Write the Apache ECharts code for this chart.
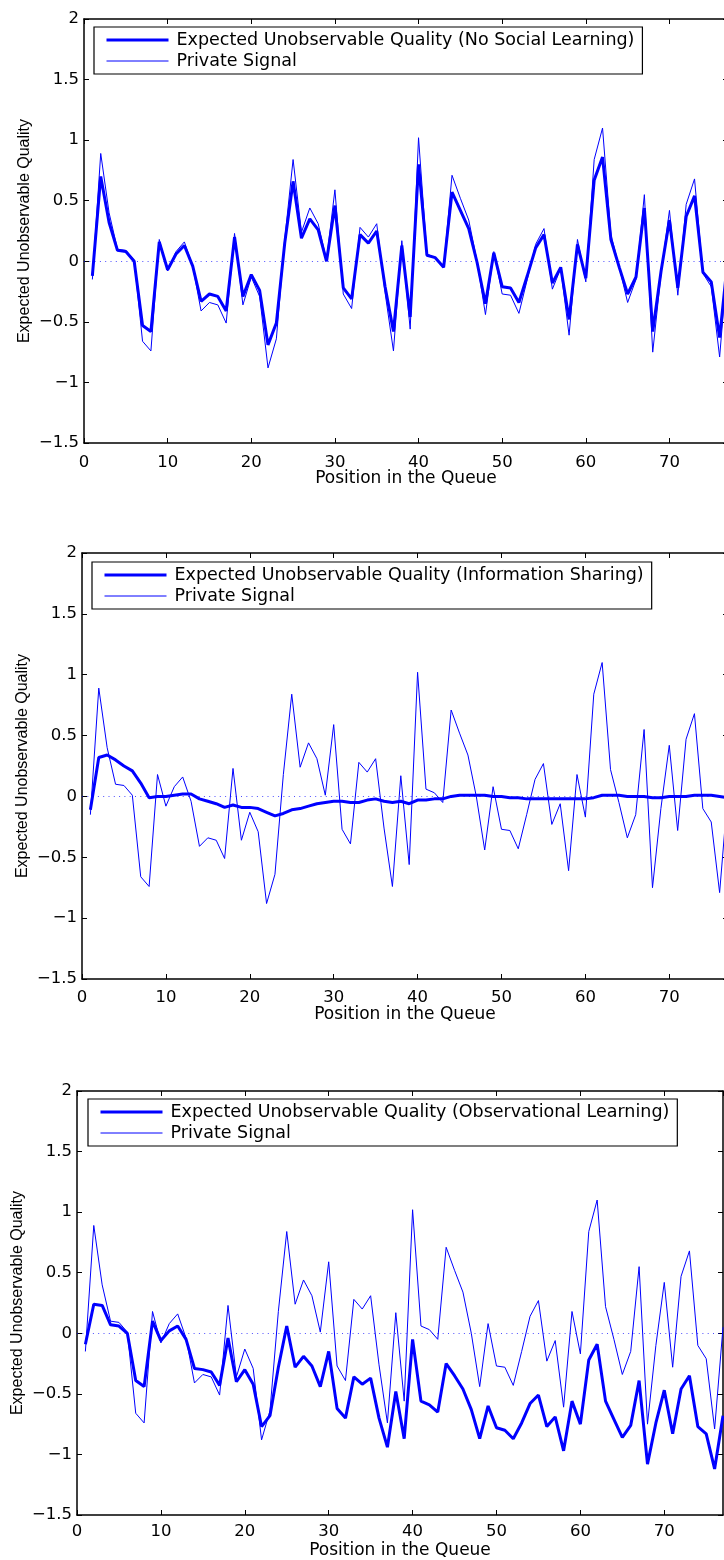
<!DOCTYPE html>
<html><head><meta charset="utf-8">
<script src="https://cdn.jsdelivr.net/npm/echarts@6/dist/echarts.min.js"></script>
<style>html,body{margin:0;padding:0;background:#fff;overflow:hidden;width:724px;height:1560px}#c{width:740px;height:1560px}</style>
</head><body><div id="c"></div>
<script>
const positions = [1,2,3,4,5,6,7,8,9,10,11,12,13,14,15,16,17,18,19,20,21,22,23,24,25,26,27,28,29,30,31,32,33,34,35,36,37,38,39,40,41,42,43,44,45,46,47,48,49,50,51,52,53,54,55,56,57,58,59,60,61,62,63,64,65,66,67,68,69,70,71,72,73,74,75,76,77];
const privateSignal = [-0.15,0.89,0.40,0.10,0.09,0.01,-0.66,-0.74,0.18,-0.08,0.08,0.16,-0.04,-0.41,-0.34,-0.36,-0.51,0.23,-0.36,-0.13,-0.29,-0.88,-0.64,0.18,0.84,0.24,0.44,0.31,0.01,0.59,-0.27,-0.39,0.28,0.20,0.31,-0.26,-0.74,0.17,-0.56,1.02,0.06,0.03,-0.05,0.71,0.52,0.34,0.00,-0.44,0.08,-0.27,-0.28,-0.43,-0.15,0.14,0.27,-0.23,-0.06,-0.61,0.18,-0.17,0.84,1.10,0.22,-0.05,-0.34,-0.15,0.55,-0.75,-0.10,0.42,-0.28,0.47,0.68,-0.10,-0.21,-0.79,0.05];
const noSocialLearning = [-0.12,0.70,0.32,0.09,0.08,0.00,-0.53,-0.58,0.16,-0.07,0.06,0.13,-0.04,-0.33,-0.27,-0.29,-0.41,0.20,-0.29,-0.11,-0.24,-0.69,-0.51,0.15,0.66,0.19,0.35,0.26,0.00,0.46,-0.22,-0.31,0.22,0.15,0.25,-0.21,-0.58,0.13,-0.46,0.80,0.05,0.03,-0.05,0.57,0.42,0.27,-0.01,-0.35,0.07,-0.21,-0.22,-0.34,-0.12,0.11,0.22,-0.18,-0.05,-0.48,0.14,-0.14,0.67,0.86,0.18,-0.05,-0.27,-0.13,0.44,-0.58,-0.08,0.34,-0.22,0.37,0.54,-0.09,-0.17,-0.63,0.04];
const informationSharing = [-0.11,0.32,0.34,0.30,0.25,0.21,0.11,-0.01,0.00,0.00,0.01,0.02,0.02,-0.02,-0.04,-0.06,-0.09,-0.07,-0.09,-0.09,-0.10,-0.13,-0.16,-0.14,-0.11,-0.10,-0.08,-0.06,-0.05,-0.04,-0.04,-0.05,-0.05,-0.03,-0.02,-0.04,-0.05,-0.04,-0.06,-0.03,-0.03,-0.02,-0.02,0.00,0.01,0.01,0.01,0.01,0.00,0.00,-0.01,-0.01,-0.02,-0.02,-0.02,-0.02,-0.02,-0.02,-0.02,-0.02,-0.01,0.01,0.01,0.01,0.00,0.00,0.00,-0.01,-0.01,0.00,0.00,0.00,0.01,0.01,0.01,0.00,-0.01];
const observationalLearning = [-0.09,0.24,0.23,0.07,0.06,0.00,-0.39,-0.44,0.10,-0.06,0.02,0.06,-0.05,-0.29,-0.30,-0.32,-0.43,-0.04,-0.40,-0.30,-0.42,-0.77,-0.68,-0.28,0.06,-0.28,-0.19,-0.27,-0.44,-0.15,-0.62,-0.70,-0.36,-0.42,-0.37,-0.70,-0.94,-0.48,-0.87,-0.05,-0.56,-0.59,-0.65,-0.25,-0.35,-0.46,-0.63,-0.87,-0.60,-0.78,-0.80,-0.87,-0.74,-0.58,-0.51,-0.77,-0.69,-0.97,-0.56,-0.75,-0.22,-0.09,-0.56,-0.71,-0.86,-0.76,-0.39,-1.08,-0.74,-0.47,-0.83,-0.46,-0.35,-0.77,-0.83,-1.12,-0.68];
const xTickValues = [0,10,20,30,40,50,60,70];
const yTickValues = [-1.5,-1,-0.5,0,0.5,1,1.5,2];
const yTickLabels = ['\u22121.5','\u22121','\u22120.5','0','0.5','1','1.5','2'];
const expectedNames = ['Expected Unobservable Quality (No Social Learning)','Expected Unobservable Quality (Information Sharing)','Expected Unobservable Quality (Observational Learning)'];
const signalName = 'Private Signal';
const xTitle = 'Position in the Queue';
const yTitle = 'Expected Unobservable Quality';

const expectedSeries = [noSocialLearning, informationSharing, observationalLearning];
const grids = [
  {left:84, top:19, width:644, height:424},
  {left:82, top:553, width:646, height:426},
  {left:77, top:1091, width:646, height:424}
];
const labelMargins = [11, 10, 8];
const legendPos = [{left:94, top:27},{left:92, top:562},{left:88, top:1099}];
const BLUE = '#0000ff';
const tickFont = 'DejaVu Sans';

function pairs(ys){ return positions.map((x,i)=>[x, ys[i]]); }
function xLabel(v){ return xTickValues.indexOf(v) >= 0 ? String(v) : ''; }
function yLabel(v){ const k = yTickValues.findIndex(t => Math.abs(t - v) < 1e-9); return k >= 0 ? yTickLabels[k] : ''; }

const option = {
  animation:false,
  backgroundColor:'#fff',
  grid: grids.map(g => Object.assign({containLabel:false, outerBoundsMode:'none', show:false}, g)),
  xAxis: [], yAxis: [], series: [], legend: []
};
const axisLine = {show:true, onZero:false, lineStyle:{color:'#000', width:1.5}};
const axisTick = {show:true, inside:true, length:5, lineStyle:{color:'#000', width:1}};
grids.forEach((g, gi) => {
  option.xAxis.push({gridIndex:gi, type:'value', position:'bottom', min:0, max:77, interval:10,
    axisLine, axisTick, splitLine:{show:false},
    axisLabel:{formatter:xLabel, color:'#000', fontFamily:tickFont, fontSize:16.5, margin:labelMargins[gi], showMaxLabel:false},
    name:xTitle, nameLocation:'middle', nameGap:27, nameMoveOverlap:false,
    nameTextStyle:{color:'#000', fontFamily:tickFont, fontSize:17}});
  option.xAxis.push({gridIndex:gi, type:'value', position:'top', min:0, max:77, interval:10,
    axisLine, axisTick, splitLine:{show:false}, axisLabel:{show:false}});
  option.yAxis.push({gridIndex:gi, type:'value', position:'left', min:-1.5, max:2, interval:0.5,
    axisLine, axisTick, splitLine:{show:false},
    axisLabel:{formatter:yLabel, color:'#000', fontFamily:tickFont, fontSize:16.5, margin:5},
    name:yTitle, nameLocation:'middle', nameRotate:90, nameGap:51, nameMoveOverlap:false,
    nameTextStyle:{color:'#000', fontFamily:'Liberation Sans', fontSize:16}});
  option.yAxis.push({gridIndex:gi, type:'value', position:'right', min:-1.5, max:2, interval:0.5,
    axisLine, axisTick, splitLine:{show:false}, axisLabel:{show:false}});
  option.series.push({type:'line', name:expectedNames[gi], xAxisIndex:gi*2, yAxisIndex:gi*2,
    data:pairs(expectedSeries[gi]), symbol:'none', showSymbol:false, z:3,
    lineStyle:{color:BLUE, width:3}, itemStyle:{color:BLUE}, emphasis:{disabled:true}});
  option.series.push({type:'line', name:signalName, xAxisIndex:gi*2, yAxisIndex:gi*2,
    data:pairs(privateSignal), symbol:'none', showSymbol:false, z:2,
    lineStyle:{color:BLUE, width:1}, itemStyle:{color:BLUE}, emphasis:{disabled:true},
    markLine:{silent:true, symbol:'none', label:{show:false}, animation:false,
      lineStyle:{color:'#0000ff', width:1, type:[1,4.3], opacity:0.7}, emphasis:{disabled:true},
      data:[{yAxis:0}]}});
  option.legend.push({orient:'vertical', left:legendPos[gi].left, top:legendPos[gi].top,
    data:[{name:expectedNames[gi], lineStyle:{width:3, color:BLUE}}, {name:signalName, lineStyle:{width:1, color:BLUE}}],
    itemWidth:62, itemHeight:14, itemGap:1, padding:[3,8,3,11], selectedMode:false,
    borderColor:'#000', borderWidth:1.2, borderRadius:0, backgroundColor:'#fff',
    itemStyle:{opacity:0},
    textStyle:{color:'#000', fontFamily:tickFont, fontSize:17.5, lineHeight:20, padding:[0,0,0,3]}});
});
const chart = echarts.init(document.getElementById('c'), null, {renderer:'canvas'});
chart.setOption(option);
</script></body></html>
